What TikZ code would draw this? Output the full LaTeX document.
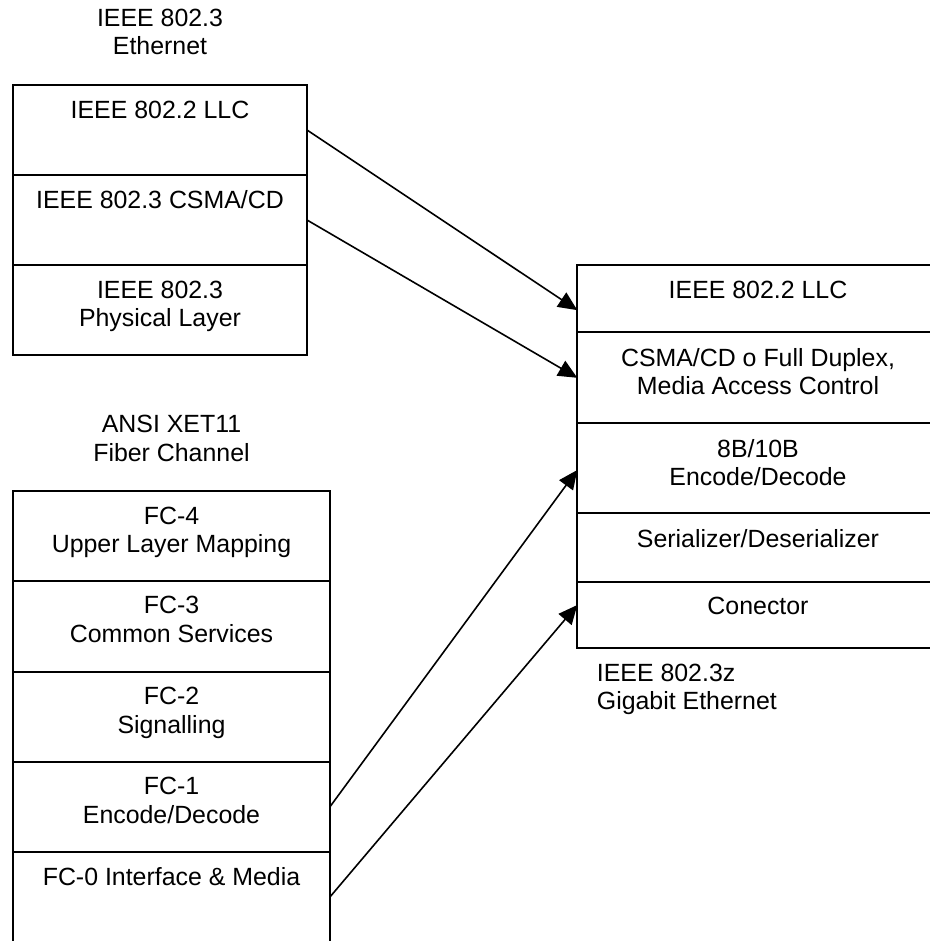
\documentclass[tikz,border=0pt]{standalone}
\usepackage{fontspec}
\setmainfont{Liberation Sans}
\usetikzlibrary{arrows.meta}

\begin{document}
\begin{tikzpicture}[x=1pt, y=-1pt,
  layer/.style={draw, line width=1.8pt, rectangle, anchor=north west,
    inner sep=0pt, outer sep=0pt},
  layertext/.style={anchor=north, inner sep=0pt, align=center, yshift=-15.7pt,
    font=\fontsize{24.9}{28.4}\selectfont},
  caption/.style={inner sep=0pt, font=\fontsize{24.9}{28.4}\selectfont},
  link/.style={line width=1.6pt, -{Triangle[length=19pt, width=17pt]}}
]
\useasboundingbox (0,0) rectangle (929,941);

% IEEE 802.3 Ethernet stack
\node[layer, minimum width=294pt, minimum height=90pt] (e1) at (13,85) {};
\node[layer, minimum width=294pt, minimum height=90pt] (e2) at (13,175) {};
\node[layer, minimum width=294pt, minimum height=90pt] (e3) at (13,265) {};
\node[layertext] at (e1.north) {IEEE 802.2 LLC};
\node[layertext] at (e2.north) {IEEE 802.3 CSMA/CD};
\node[layertext] at (e3.north) {IEEE 802.3\\Physical Layer};
\node[caption, anchor=south, align=center, yshift=30pt] (ethcap) at (e1.north)
  {IEEE 802.3\\Ethernet};

% ANSI Fiber Channel stack
\node[layer, minimum width=317pt, minimum height=89.7pt] (f4) at (13,491) {};
\node[layer, minimum width=317pt, minimum height=91pt] (f3) at (13,580.7) {};
\node[layer, minimum width=317pt, minimum height=90pt] (f2) at (13,671.7) {};
\node[layer, minimum width=317pt, minimum height=90pt] (f1) at (13,761.7) {};
\node[layer, minimum width=317pt, minimum height=90.4pt] (f0) at (13,851.7) {};
\node[layertext] at (f4.north) {FC-4\\Upper Layer Mapping};
\node[layertext] at (f3.north) {FC-3\\Common Services};
\node[layertext] at (f2.north) {FC-2\\Signalling};
\node[layertext] at (f1.north) {FC-1\\Encode/Decode};
\node[layertext] at (f0.north) {FC-0 Interface \& Media};
\node[caption, anchor=south, align=center, yshift=29.3pt] (fccap) at (f4.north)
  {ANSI XET11\\Fiber Channel};

% IEEE 802.3z Gigabit Ethernet stack
\node[layer, minimum width=361.4pt, minimum height=67.3pt] (g1) at (577.3,265) {};
\node[layer, minimum width=361.4pt, minimum height=91pt] (g2) at (577.3,332.3) {};
\node[layer, minimum width=361.4pt, minimum height=90pt] (g3) at (577.3,423.3) {};
\node[layer, minimum width=361.4pt, minimum height=68.4pt] (g4) at (577.3,513.3) {};
\node[layer, minimum width=361.4pt, minimum height=66.6pt] (g5) at (577.3,581.7) {};
\node[layertext] at (g1.north) {IEEE 802.2 LLC};
\node[layertext] at (g2.north) {CSMA/CD o Full Duplex,\\Media Access Control};
\node[layertext] at (g3.north) {8B/10B\\Encode/Decode};
\node[layertext] at (g4.north) {Serializer/Deserializer};
\node[layertext] at (g5.north) {Conector};
\node[caption, anchor=north west, align=left] (gecap) at (596.7,664)
  {IEEE 802.3z\\Gigabit Ethernet};

% Mappings between the stacks
\draw[link] (e1.east) -- ([yshift=-11.5pt]g1.west);
\draw[link] (e2.east) -- (g2.west);
\draw[link] (f1.east) -- ([yshift=-1.7pt]g3.west);
\draw[link] (f0.east) -- ([yshift=10pt]g5.west);
\end{tikzpicture}
\end{document}
